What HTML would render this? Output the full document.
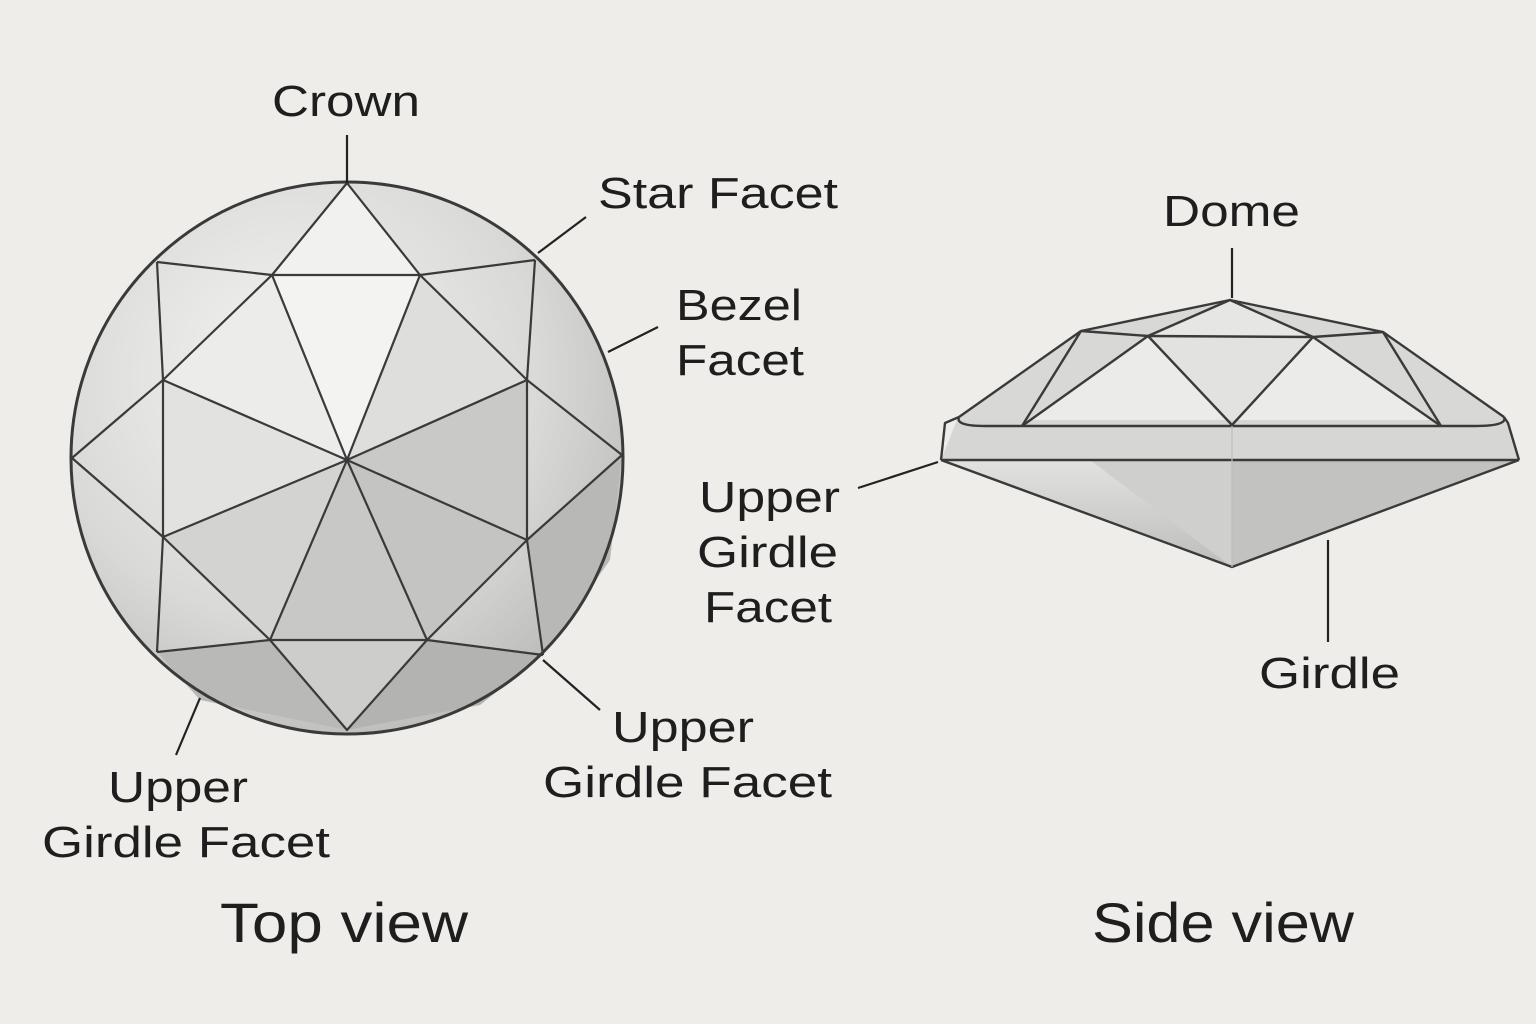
<!DOCTYPE html>
<html><head><meta charset="utf-8"><style>
html,body{margin:0;padding:0;background:#eeedea;}
svg{display:block}
text{font-family:"Liberation Sans","DejaVu Sans",sans-serif;fill:#1e1e1e;}
</style></head><body>
<svg width="1536" height="1024" viewBox="0 0 1536 1024" xmlns="http://www.w3.org/2000/svg">
<defs>
<radialGradient id="g1" cx="0.4" cy="0.35" r="0.75">
<stop offset="0" stop-color="#f4f4f3"/><stop offset="0.6" stop-color="#d9d9d7"/><stop offset="1" stop-color="#b5b5b3"/>
</radialGradient>
<linearGradient id="pav" x1="0" y1="0" x2="0" y2="1">
<stop offset="0" stop-color="#e2e2e0"/><stop offset="1" stop-color="#bdbdbb"/>
</linearGradient>
</defs>
<rect width="1536" height="1024" fill="#eeedea"/>

<!-- TOP VIEW -->
<circle cx="347" cy="458" r="276" fill="url(#g1)"/>
<g stroke="none">
<polygon points="272,275 420,275 347,460" fill="#f3f3f2"/>
<polygon points="272,275 163,380 347,460" fill="#ececeb"/>
<polygon points="420,275 527,380 347,460" fill="#dededd"/>
<polygon points="347,183 272,275 420,275" fill="#f1f1f0"/>
<polygon points="163,380 163,537 347,460" fill="#e2e2e1"/>
<polygon points="527,380 527,540 347,460" fill="#c9c9c7"/>
<polygon points="163,537 270,640 347,460" fill="#d3d3d2"/>
<polygon points="527,540 427,640 347,460" fill="#c4c4c2"/>
<polygon points="270,640 427,640 347,460" fill="#c8c8c6"/>
<polygon points="270,640 347,730 427,640" fill="#cdcdcb"/>
<polygon points="157,652 270,640 347,730 200,700" fill="#b9b9b7"/>
<polygon points="427,640 543,655 480,705 347,730" fill="#b3b3b1"/>
<polygon points="527,540 622,455 610,560 543,655" fill="#b8b8b6"/>
</g>
<g fill="none" stroke="#3a3a3a" stroke-width="2.2" stroke-linejoin="round">
<circle cx="347" cy="458" r="276" stroke-width="3"/>
<polyline points="157,262 272,275 420,275 535,260"/>
<polyline points="535,260 527,380 527,540 543,655"/>
<polyline points="157,262 163,380 163,537 157,652"/>
<polyline points="157,652 270,640 427,640 543,655"/>
<polyline points="272,275 347,183 420,275"/>
<polyline points="163,380 72,458 163,537"/>
<polyline points="527,380 622,455 527,540"/>
<polyline points="270,640 347,730 427,640"/>
<line x1="163" y1="380" x2="272" y2="275"/>
<line x1="420" y1="275" x2="527" y2="380"/>
<line x1="163" y1="537" x2="270" y2="640"/>
<line x1="427" y1="640" x2="527" y2="540"/>
<line x1="272" y1="275" x2="347" y2="460"/>
<line x1="420" y1="275" x2="347" y2="460"/>
<line x1="163" y1="380" x2="347" y2="460"/>
<line x1="527" y1="380" x2="347" y2="460"/>
<line x1="163" y1="537" x2="347" y2="460"/>
<line x1="527" y1="540" x2="347" y2="460"/>
<line x1="270" y1="640" x2="347" y2="460"/>
<line x1="427" y1="640" x2="347" y2="460"/>
</g>
<g stroke="#222" stroke-width="2.2">
<line x1="347" y1="135" x2="347" y2="183"/>
<line x1="538" y1="253" x2="586" y2="217"/>
<line x1="608" y1="352" x2="658" y2="327"/>
<line x1="200" y1="698" x2="176" y2="755"/>
<line x1="543" y1="660" x2="600" y2="710"/>
</g>
<g font-size="44" lengthAdjust="spacingAndGlyphs">
<text x="272" y="116" textLength="148" lengthAdjust="spacingAndGlyphs">Crown</text>
<text x="598" y="208" textLength="240" lengthAdjust="spacingAndGlyphs">Star Facet</text>
<text x="676" y="320" textLength="126" lengthAdjust="spacingAndGlyphs">Bezel</text>
<text x="676" y="375" textLength="128" lengthAdjust="spacingAndGlyphs">Facet</text>
<text x="108" y="802" textLength="140" lengthAdjust="spacingAndGlyphs">Upper</text>
<text x="42" y="857" textLength="288" lengthAdjust="spacingAndGlyphs">Girdle Facet</text>
<text x="612" y="742" textLength="142" lengthAdjust="spacingAndGlyphs">Upper</text>
<text x="543" y="797" textLength="289" lengthAdjust="spacingAndGlyphs">Girdle Facet</text>
<text x="220" y="942" font-size="56" textLength="248" lengthAdjust="spacingAndGlyphs">Top view</text>
</g>

<!-- SIDE VIEW -->
<polygon points="941,460 1519,460 1232,567" fill="url(#pav)"/>
<polygon points="1232,460 1519,460 1232,567" fill="#c2c2c0"/>
<polygon points="1232,460 1090,460 1232,567" fill="#cfcfcd"/>
<polygon points="959,417 1081,331 1230,300 1383,332 1504,417 1506,426 957,426" fill="#d8d8d6"/>
<polygon points="1022,426 1148,336 1313,337 1441,426" fill="#ebebea"/>
<polygon points="1148,336 1230,300 1313,337" fill="#e6e6e4"/>
<polygon points="1148,336 1232,425 1313,337" fill="#e2e2e0"/>
<path d="M957,420 L1506,420 L1519,460 L941,460 Z" fill="#d6d6d4"/>
<g fill="none" stroke="#3a3a3a" stroke-width="2.4" stroke-linejoin="round">
<polyline points="959,417 1081,331 1230,300 1383,332 1504,417"/>
<polyline points="1081,331 1148,336 1230,300 1313,337 1383,332"/>
<line x1="1148" y1="336" x2="1313" y2="337"/>
<line x1="1081" y1="331" x2="1022" y2="426"/>
<line x1="1148" y1="336" x2="1022" y2="426"/>
<polyline points="1148,336 1232,425 1313,337"/>
<line x1="1313" y1="337" x2="1441" y2="426"/>
<line x1="1383" y1="332" x2="1441" y2="426"/>
<path d="M959,417 Q955,426 985,426 L1475,426 Q1508,426 1504,417"/>
<path d="M959,417 L945,423 L941,460 M1504,417 L1508,423 L1519,460"/>
<line x1="941" y1="460" x2="1519" y2="460"/>
<polyline points="941,460 1232,567 1519,460"/>
</g>
<g stroke="#bdbdbb" stroke-width="1.2">
<line x1="1232" y1="460" x2="1232" y2="567"/>
<line x1="1232" y1="426" x2="1232" y2="460"/>
</g>
<g stroke="#222" stroke-width="2.2">
<line x1="1232" y1="248" x2="1232" y2="298"/>
<line x1="858" y1="488" x2="938" y2="462"/>
<line x1="1328" y1="540" x2="1328" y2="642"/>
</g>
<g font-size="44">
<text x="1163" y="226" textLength="137" lengthAdjust="spacingAndGlyphs">Dome</text>
<text x="699" y="512" textLength="141" lengthAdjust="spacingAndGlyphs">Upper</text>
<text x="697" y="567" textLength="141" lengthAdjust="spacingAndGlyphs">Girdle</text>
<text x="704" y="622" textLength="128" lengthAdjust="spacingAndGlyphs">Facet</text>
<text x="1259" y="688" textLength="141" lengthAdjust="spacingAndGlyphs">Girdle</text>
<text x="1092" y="942" font-size="56" textLength="262" lengthAdjust="spacingAndGlyphs">Side view</text>
</g>
</svg>
</body></html>
